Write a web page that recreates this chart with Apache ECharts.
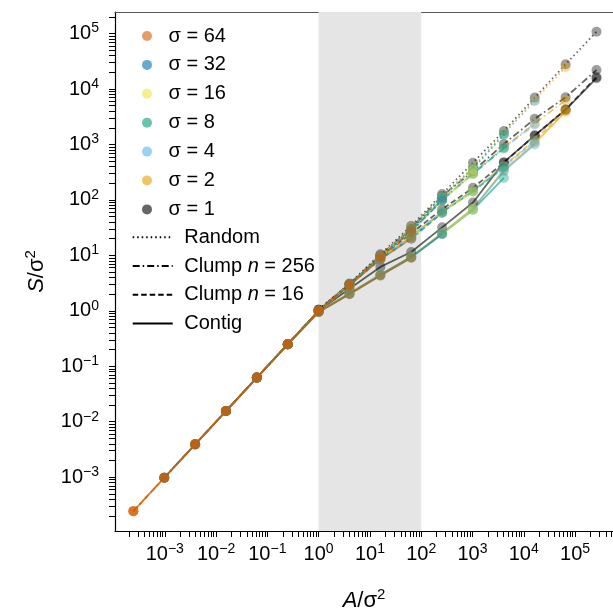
<!DOCTYPE html>
<html>
<head>
<meta charset="utf-8">
<style>
html, body { margin: 0; padding: 0; background: #fff; }
#chart { width: 613px; height: 612px; }
</style>
<script src="https://cdn.jsdelivr.net/npm/echarts@6/dist/echarts.min.js"></script>
</head>
<body>
<div id="chart"></div>
<script>
// A/σ² steps (powers of 4)
var areaSteps = [0.000244, 0.000977, 0.00391, 0.0156, 0.0625, 0.25, 1, 4, 16, 64, 256, 1024, 4096, 16384, 65536, 262144];
var sigmas = [64, 32, 16, 8, 4, 2, 1];
// where each sigma starts on areaSteps
var sigmaStart = [0, 1, 2, 3, 4, 5, 6];
var sigmaColors = ['#D55E00', '#0072B2', '#F0E442', '#009E73', '#56B4E9', '#E69F00', '#000000'];

// S/σ², one row per sigma (64 ... 1)
var randomVals = [
    [0.000244, 0.000977, 0.00391, 0.0156, 0.0625, 0.25, 1.0, 2.95, 9.5, 30],
    [0.000977, 0.00391, 0.0156, 0.0625, 0.25, 1.0, 3.0, 9.6, 30, 108],
    [0.00391, 0.0156, 0.0625, 0.25, 1.0, 3.0, 9.6, 31, 110, 350],
    [0.0156, 0.0625, 0.25, 1.0, 3.0, 9.7, 31, 112, 365, 1500],
    [0.0625, 0.25, 1.0, 3.0, 9.8, 31, 115, 375, 1550, 6000],
    [0.25, 1.0, 3.0, 9.9, 32, 118, 390, 1600, 6300, 25000],
    [1.05, 3.1, 10.5, 34, 128, 470, 1750, 7000, 28000, 108000]
];
var clump256Vals = [
    [0.000244, 0.000977, 0.00391, 0.0156, 0.0625, 0.25, 1.0, 2.95, 9.3, 27],
    [0.000977, 0.00391, 0.0156, 0.0625, 0.25, 1.0, 2.95, 9.3, 27, 98],
    [0.00391, 0.0156, 0.0625, 0.25, 1.0, 2.95, 9.3, 27, 98, 290],
    [0.0156, 0.0625, 0.25, 1.0, 2.95, 9.4, 28, 100, 295, 850],
    [0.0625, 0.25, 1.0, 3.0, 9.4, 28, 100, 300, 870, 2300],
    [0.25, 1.0, 3.0, 9.5, 28, 102, 305, 890, 2400, 6300],
    [1.05, 3.05, 10, 31, 118, 330, 1020, 2900, 7100, 22000]
];
var clump16Vals = [
    [0.000244, 0.000977, 0.00391, 0.0156, 0.0625, 0.25, 1.0, 2.9, 8.5, 20],
    [0.000977, 0.00391, 0.0156, 0.0625, 0.25, 1.0, 2.9, 8.5, 20, 58],
    [0.00391, 0.0156, 0.0625, 0.25, 1.0, 2.9, 8.6, 21, 59, 140],
    [0.0156, 0.0625, 0.25, 1.0, 2.9, 8.6, 21, 60, 142, 380],
    [0.0625, 0.25, 1.0, 2.9, 8.7, 22, 61, 145, 400, 1150],
    [0.25, 1.0, 2.9, 8.8, 22, 62, 148, 410, 1200, 4100],
    [1.05, 3.0, 9.3, 25, 68, 165, 470, 1450, 4300, 16500]
];
var contigVals = [
    [0.000244, 0.000977, 0.00391, 0.0156, 0.0625, 0.25, 0.95, 2.0, 4.3, 9.0],
    [0.000977, 0.00391, 0.0156, 0.0625, 0.25, 0.95, 2.0, 4.4, 9.2, 24],
    [0.00391, 0.0156, 0.0625, 0.25, 0.95, 2.05, 4.4, 9.3, 24.5, 68],
    [0.0156, 0.0625, 0.25, 0.95, 2.05, 4.4, 9.3, 24.6, 66, 250],
    [0.0625, 0.25, 0.95, 2.05, 4.5, 9.4, 25, 69, 330, 1000],
    [0.25, 0.95, 2.1, 4.5, 9.5, 25, 70, 345, 1050, 3900],
    [1.0, 2.5, 6.2, 11.5, 32, 90, 480, 1450, 4200, 15700]
];

// tick labels
var majorTicks = [1e-3, 1e-2, 1e-1, 1e0, 1e1, 1e2, 1e3, 1e4, 1e5];
var shadeRange = [1, 100];

var FONT = 'Liberation Sans, Arial, sans-serif';
var xMin = 1.07e-4, xMax = 5.5e5, yMin = 1.07e-4, yMax = 2.45e5;

var methods = [
    { name: 'Random', vals: randomVals, dash: [1.5, 3] },
    { name: 'Clump n = 256', vals: clump256Vals, dash: [7, 3, 1.5, 3] },
    { name: 'Clump n = 16', vals: clump16Vals, dash: [5.5, 3] },
    { name: 'Contig', vals: contigVals, dash: 'solid' }
];

// 1..9 x 10^k inside an axis range
function logTicks(lo, hi) {
    var out = [];
    for (var d = -5; d <= 6; d++) {
        for (var m = 1; m <= 9; m++) {
            var v = m * Math.pow(10, d);
            if (v > lo && v < hi) out.push(v);
        }
    }
    return out;
}

function powLabel(v) {
    var e = Math.round(Math.log10(v));
    if (Math.abs(Math.log10(v) - e) > 1e-6) return '';
    var ex = e < 0 ? '\u2212' + (-e) : '' + e;
    return '{b|10}{s|' + ex + '}';
}
var labelRich = {
    b: { fontSize: 20, fontFamily: FONT, color: '#000', lineHeight: 24 },
    s: { fontSize: 14, fontFamily: FONT, color: '#000', lineHeight: 14, verticalAlign: 'top' }
};
var nameRich = {
    i: { fontSize: 22, fontFamily: FONT, fontStyle: 'italic', color: '#000', lineHeight: 28 },
    n: { fontSize: 22, fontFamily: FONT, color: '#000', lineHeight: 28 },
    s: { fontSize: 15, fontFamily: FONT, color: '#000', lineHeight: 15, verticalAlign: 'top' }
};

var series = [];
// sigma = 1 drawn first, sigma = 64 last (on top)
for (var i = sigmas.length - 1; i >= 0; i--) {
    var xs = areaSteps.slice(sigmaStart[i], sigmaStart[i] + 10);
    for (var k = 0; k < methods.length; k++) {
        var ys = methods[k].vals[i];
        var s = {
            name: '\u03c3 = ' + sigmas[i],
            type: 'line',
            data: xs.map(function (x, j) { return [x, ys[j]]; }),
            symbol: 'circle',
            symbolSize: 10,
            color: sigmaColors[i],
            itemStyle: { opacity: 0.38 },
            lineStyle: { width: 1.8, type: methods[k].dash, opacity: 0.6 },
            emphasis: { disabled: true },
            silent: true
        };
        if (series.length === 0) {
            s.markArea = {
                silent: true,
                itemStyle: { color: '#e5e5e5' },
                data: [[{ xAxis: shadeRange[0] }, { xAxis: shadeRange[1] }]]
            };
        }
        series.push(s);
    }
}
// legend only series for line styles
methods.forEach(function (m) {
    series.push({
        name: m.name,
        type: 'line',
        data: [],
        symbol: 'none',
        color: '#000',
        lineStyle: { width: 1.5, type: m.dash }
    });
});

var option = {
    animation: false,
    backgroundColor: '#fff',
    grid: { left: 115, right: 0, top: 12, bottom: 81, outerBoundsMode: 'none' },
    legend: [
        {
            orient: 'vertical',
            left: 137,
            top: 21,
            itemWidth: 10,
            itemHeight: 10,
            itemGap: 8.9,
            icon: 'circle',
            selectedMode: false,
            data: sigmas.map(function (sg, n) {
                return { name: '\u03c3 = ' + sg, itemStyle: { color: sigmaColors[n], opacity: 0.6 } };
            }),
            formatter: function (name) { return '{t|' + name + '}'; },
            textStyle: {
                rich: { t: { fontSize: 20, fontFamily: FONT, color: '#000', lineHeight: 20, padding: [0, 0, 0, 11.6] } }
            }
        },
        {
            orient: 'vertical',
            left: 126.7,
            top: 222.3,
            itemWidth: 40,
            itemHeight: 10,
            itemGap: 8.7,
            selectedMode: false,
            itemStyle: { opacity: 0 },
            data: methods.map(function (m) { return m.name; }),
            formatter: function (name) {
                if (name.indexOf('Clump') === 0) {
                    return '{t|Clump }{i|n}{t|' + name.slice(7) + '}';
                }
                return '{t|' + name + '}';
            },
            textStyle: {
                rich: {
                    t: { fontSize: 20, fontFamily: FONT, color: '#000', lineHeight: 20 },
                    i: { fontSize: 20, fontFamily: FONT, fontStyle: 'italic', color: '#000', lineHeight: 20 }
                },
                padding: [0, 0, 0, 6.6]
            }
        }
    ],
    xAxis: [
        {
            type: 'log', min: xMin, max: xMax, position: 'bottom',
            name: '{i|A}{n|/\u03c3}{s|2}',
            nameLocation: 'middle',
            nameGap: 56,
            nameTextStyle: { rich: nameRich },
            axisLine: { lineStyle: { color: '#000', width: 1.2 } },
            axisTick: { show: true, length: 6, customValues: logTicks(xMin, xMax), lineStyle: { color: '#000', width: 1 } },
            axisLabel: { customValues: majorTicks, formatter: powLabel, rich: labelRich, margin: 11 },
            splitLine: { show: false }
        },
        {
            type: 'log', min: xMin, max: xMax, position: 'top',
            axisLine: { show: true, lineStyle: { color: '#555', width: 1.2 } },
            axisTick: { show: false },
            axisLabel: { show: false },
            splitLine: { show: false }
        }
    ],
    yAxis: {
        type: 'log', min: yMin, max: yMax, position: 'left',
        name: '{i|S}{n|/\u03c3}{s|2}',
        nameLocation: 'middle',
        nameGap: 64,
        nameTextStyle: { rich: nameRich },
        axisLine: { lineStyle: { color: '#000', width: 1.2 } },
        axisTick: { show: true, length: 6, customValues: logTicks(yMin, yMax), lineStyle: { color: '#000', width: 1 } },
        axisLabel: { customValues: majorTicks, formatter: powLabel, rich: labelRich, margin: 16 },
        splitLine: { show: false }
    },
    series: series
};

var myChart = echarts.init(document.getElementById('chart'));
myChart.setOption(option);
window.addEventListener('resize', function () {
    myChart.resize();
});
</script>
</body>
</html>
